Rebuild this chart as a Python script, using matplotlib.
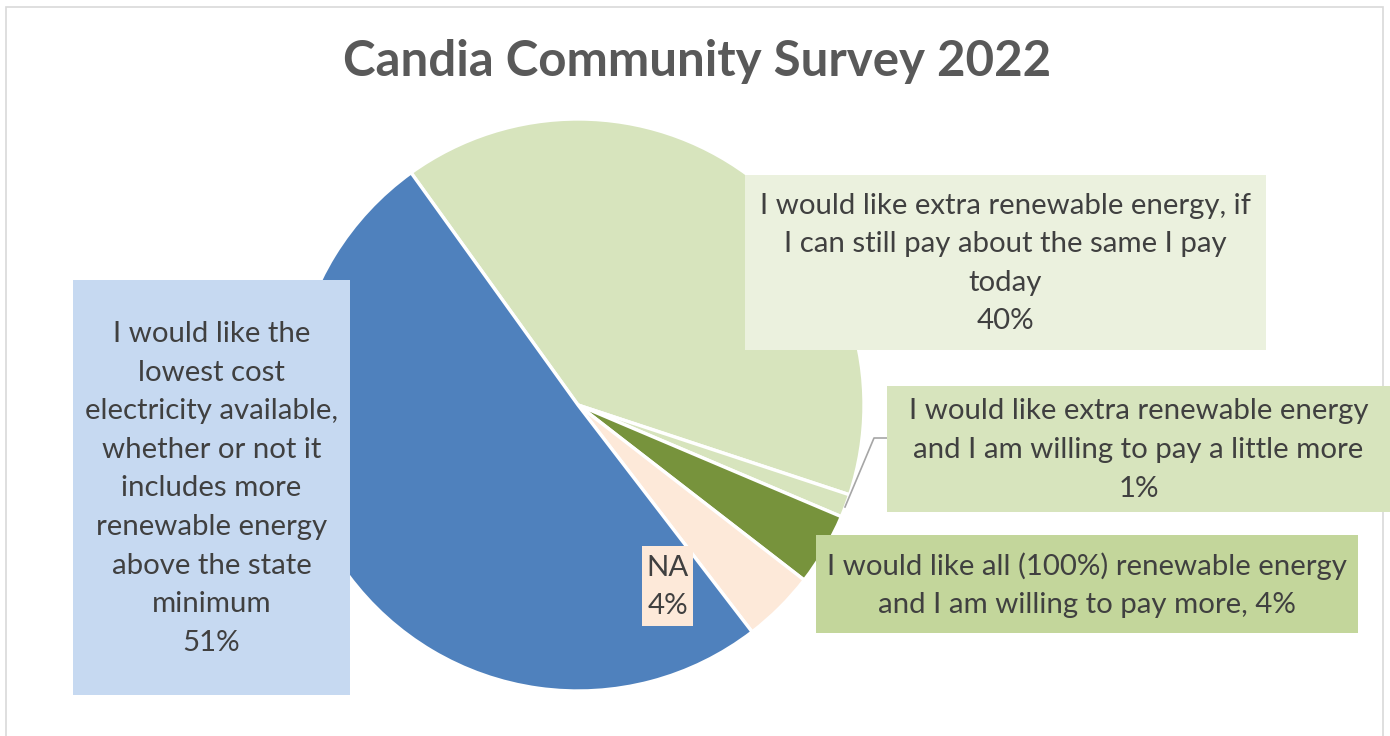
import matplotlib
matplotlib.use('Agg')
import matplotlib.pyplot as plt
from matplotlib.patches import Rectangle

plt.rcParams['font.family'] = ['Lato', 'DejaVu Sans']

# slice data, in clockwise order starting from the top-left edge of the 40% slice
labels = ['I would like extra renewable energy, if\nI can still pay about the same I pay\ntoday',
          'I would like extra renewable energy\nand I am willing to pay a little more',
          'I would like all (100%) renewable energy\nand I am willing to pay more,',
          'NA',
          'I would like the\nlowest cost\nelectricity available,\nwhether or not it\nincludes more\nrenewable energy\nabove the state\nminimum']
values = [40.0, 1.3, 4.1, 4.1, 50.5]
pct_text = ['40%', '1%', '4%', '4%', '51%']
colors = ['#D7E4BD', '#D7E4BD', '#77933C', '#FDE9D9', '#4F81BD']
box_colors = ['#EBF1DE', '#D7E4BD', '#C3D69B', '#FDE9D9', '#C6D9F1']

W, H = 1390, 736
fig = plt.figure(figsize=(W / 100, H / 100), dpi=100)
ax = fig.add_axes([0, 0, 1, 1])

# chart border
ax.add_patch(Rectangle((6, -10), 1377, H - 7 + 10, fill=False, edgecolor='#D9D9D9', linewidth=1.2))

cx, cy, r = 578, H - 405, 286
ax.pie(values, colors=colors, startangle=125.7, counterclock=False,
       center=(cx, cy), radius=r, frame=True,
       wedgeprops=dict(edgecolor='white', linewidth=2.4))
ax.set_xlim(0, W)
ax.set_ylim(0, H)
ax.set_aspect('equal')
ax.axis('off')

ax.text(697, H - 62, 'Candia Community Survey 2022', ha='center', va='center',
        fontsize=35.5, fontweight='bold', color='#595959')

# label boxes (left, top, right, bottom) in pixels from top-left
boxes = [(745, 175, 1266, 350), (887, 386, 1390, 512), (816, 535, 1358, 633),
         (642, 546, 693, 626), (73, 280, 350, 695)]
for i in range(len(values)):
    x0, y0, x1, y1 = boxes[i]
    ax.add_patch(Rectangle((x0, H - y1), x1 - x0, y1 - y0, facecolor=box_colors[i],
                           edgecolor='none', zorder=3))
    if i == 2:
        txt = labels[i] + ' ' + pct_text[i]
    else:
        txt = labels[i] + '\n' + pct_text[i]
    ax.text((x0 + x1) / 2, H - (y0 + y1) / 2 - 1, txt, ha='center', va='center',
            fontsize=21.2, color='#404040', linespacing=1.6, zorder=4)

# leader line for the 1% slice
ax.plot([887, 874, 845], [H - 438, H - 438, H - 507], color='#A6A6A6', linewidth=1.2, zorder=2)

fig.savefig('out.png', dpi=100)
